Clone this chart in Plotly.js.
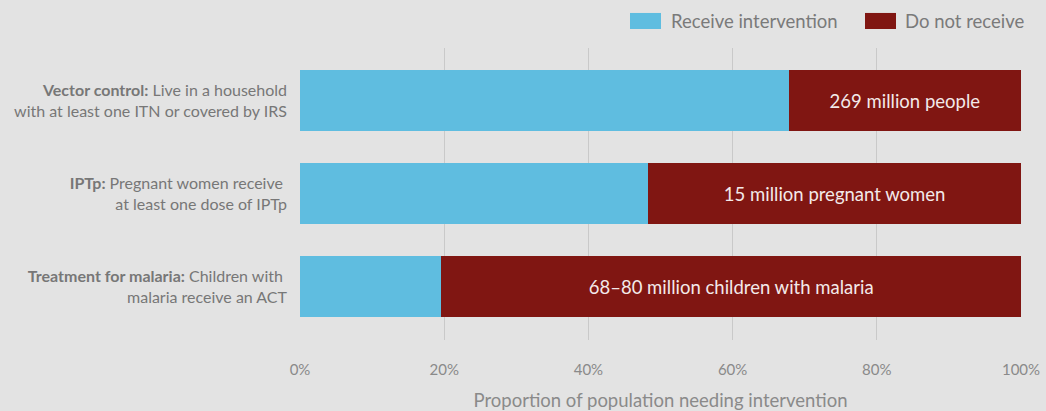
<!DOCTYPE html>
<html>
<head>
<meta charset="utf-8">
<script src="https://cdn.plot.ly/plotly-3.0.1.min.js"></script>
<style>html,body{margin:0;padding:0;background:#e3e3e3;}#chart{width:1046px;height:411px;}</style>
</head>
<body>
<div id="chart"></div>
<script>
const categories = [
  "<b>Vector control:</b> Live in a household<br>with at least one ITN or covered by IRS",
  "<b>IPTp:</b> Pregnant women receive <br>at least one dose of IPTp",
  "<b>Treatment for malaria:</b> Children with <br>malaria receive an ACT"
];
const receivePct = [67.8, 48.3, 19.6];
const notReceivePct = [32.2, 51.7, 80.4];
const notReceiveLabels = ["269 million people", "15 million pregnant women", "68–80 million children with malaria"];
const seriesNames = ["Receive intervention", "Do not receive"];
const xTickVals = [0, 20, 40, 60, 80, 100];
const xTickText = ["0%", "20%", "40%", "60%", "80%", "100%"];

const blue = "#5fbde0", red = "#801612";
const FONT = "Lato, 'Open Sans', sans-serif";

const traces = [
  {type: "bar", orientation: "h", name: seriesNames[0], y: categories, x: receivePct,
   marker: {color: blue, line: {width: 0}}, width: 0.66, hoverinfo: "x+name"},
  {type: "bar", orientation: "h", name: seriesNames[1], y: categories, x: notReceivePct,
   marker: {color: red, line: {width: 0}}, width: 0.66,
   text: notReceiveLabels, textposition: "inside", insidetextanchor: "middle",
   constraintext: "none", textfont: {family: FONT, size: 18.5, color: "#f3e9e9"}, hoverinfo: "x+name"}
];

// Legend drawn manually (paper coords)
const legendItems = [
  {x0: 0.4577, x1: 0.5007, tx: 0.5118, color: blue, label: seriesNames[0]},
  {x0: 0.7836, x1: 0.8266, tx: 0.8363, color: red, label: seriesNames[1]}
];
const shapes = legendItems.map(l => ({type: "rect", xref: "paper", yref: "paper",
  x0: l.x0, x1: l.x1, y0: 1.065, y1: 1.12, fillcolor: l.color, line: {width: 0}}));
const annotations = legendItems.map(l => ({xref: "paper", yref: "paper", x: l.tx, y: 1.0925,
  xanchor: "left", yanchor: "middle", text: l.label, showarrow: false,
  font: {family: FONT, size: 18.5, color: "#7a7a7a"}}));

const layout = {
  width: 1046, height: 411,
  paper_bgcolor: "#e3e3e3", plot_bgcolor: "#e3e3e3",
  margin: {l: 300, r: 25, t: 48, b: 71},
  barmode: "stack", showlegend: false,
  font: {family: FONT, color: "#7a7a7a"},
  xaxis: {range: [0, 100], tickvals: xTickVals, ticktext: xTickText,
    showgrid: true, gridcolor: "#c9c9c9", gridwidth: 1, zeroline: false, showline: false,
    ticks: "", ticklabelstandoff: 19, tickfont: {family: FONT, size: 15, color: "#8a8a8a"},
    title: {text: "Proportion of population needing intervention", standoff: 20,
      font: {family: FONT, size: 18.5, color: "#8a8a8a"}}, fixedrange: true},
  yaxis: {type: "category", categoryarray: categories, range: [2.575, -0.565],
    showgrid: false, zeroline: false, showline: false, ticks: "", ticklabelstandoff: 12,
    tickfont: {family: FONT, size: 16, color: "#777777"}, fixedrange: true},
  shapes: shapes, annotations: annotations
};

Plotly.newPlot("chart", traces, layout, {displayModeBar: false, staticPlot: true});
</script>
</body>
</html>
